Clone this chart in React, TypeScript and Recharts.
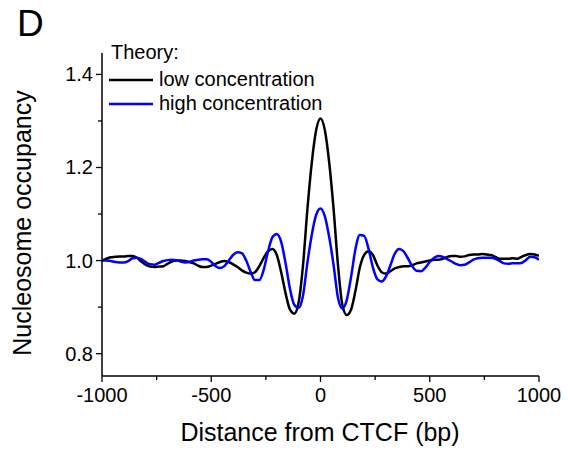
import { LineChart, Line, XAxis, YAxis } from 'recharts';

// distance from CTCF site (bp)
const distance = [
  -1000, -980, -960, -940, -920, -900, -880, -860, -840, -820,
  -800, -780, -760, -740, -720, -700, -680, -660, -640, -620,
  -600, -580, -560, -540, -520, -500, -480, -460, -440, -420,
  -400, -380, -360, -340, -320, -300, -280, -260, -240, -220,
  -200, -180, -160, -140, -120, -100, -80, -60, -40, -20,
  0,
  20, 40, 60, 80, 100, 120, 140, 160, 180, 200,
  220, 240, 260, 280, 300, 320, 340, 360, 380, 400,
  420, 440, 460, 480, 500, 520, 540, 560, 580, 600,
  620, 640, 660, 680, 700, 720, 740, 760, 780, 800,
  820, 840, 860, 880, 900, 920, 940, 960, 980, 1000,
];

const lowConcentration = [
  1.000, 1.004, 1.007, 1.008, 1.009, 1.009, 1.010, 1.010, 1.006, 0.998,
  0.991, 0.987, 0.986, 0.987, 0.988, 0.993, 0.998, 1.000, 1.000, 0.999,
  0.997, 0.994, 0.989, 0.986, 0.986, 0.989, 0.993, 0.997, 0.999, 0.997,
  0.992, 0.986, 0.979, 0.974, 0.972, 0.975, 0.988, 1.006, 1.020, 1.025,
  1.012, 0.975, 0.930, 0.895, 0.886, 0.910, 0.990, 1.110, 1.210, 1.280,
  1.305,
  1.280, 1.210, 1.110, 0.990, 0.905, 0.883, 0.895, 0.935, 0.985, 1.012,
  1.020, 1.012, 0.990, 0.975, 0.972, 0.977, 0.983, 0.986, 0.988, 0.988,
  0.990, 0.994, 0.996, 0.998, 1.000, 1.002, 1.002, 1.004, 1.008, 1.010,
  1.010, 1.008, 1.009, 1.012, 1.013, 1.013, 1.014, 1.013, 1.012, 1.008,
  1.004, 1.004, 1.004, 1.005, 1.004, 1.008, 1.012, 1.014, 1.013, 1.010,
];

const highConcentration = [
  1.000, 1.000, 0.999, 0.997, 0.996, 0.996, 0.999, 1.005, 1.006, 1.003,
  0.997, 0.992, 0.991, 0.995, 0.999, 1.001, 1.002, 1.001, 0.998, 0.996,
  0.997, 1.000, 1.002, 1.003, 1.003, 0.997, 0.988, 0.984, 0.988, 1.000,
  1.012, 1.018, 1.016, 1.000, 0.976, 0.958, 0.958, 0.980, 1.020, 1.050,
  1.057, 1.040, 0.995, 0.940, 0.905, 0.898, 0.925, 0.995, 1.055, 1.098,
  1.112,
  1.095, 1.050, 0.990, 0.920, 0.897, 0.915, 0.965, 1.025, 1.055, 1.053,
  1.025, 0.985, 0.960, 0.955, 0.966, 0.990, 1.015, 1.025, 1.020, 1.005,
  0.988, 0.978, 0.977, 0.985, 0.997, 1.006, 1.010, 1.008, 1.003, 0.998,
  0.993, 0.990, 0.991, 0.996, 1.002, 1.005, 1.006, 1.006, 1.006, 1.004,
  0.999, 0.994, 0.993, 0.994, 0.994, 0.995, 1.001, 1.008, 1.007, 1.002,
];

const xTicks = [-1000, -750, -500, -250, 0, 250, 500, 750, 1000];
const yTicks = [0.8, 0.9, 1.0, 1.1, 1.2, 1.3, 1.4];

const data = distance.map((d, i) => ({
  d,
  low: lowConcentration[i],
  high: highConcentration[i],
}));

const FONT = '"Liberation Sans", Arial, sans-serif';

const XTick = (props: any) => {
  const { x, y, payload } = props;
  const major = payload.value % 500 === 0;
  return (
    <g>
      <line x1={x} x2={x} y1={y} y2={y + (major ? 6 : 4)} stroke="#000" strokeWidth={1.3} />
      {major && (
        <text x={x} y={y + 26} textAnchor="middle" fontSize={20} fontFamily={FONT} fill="#000">
          {payload.value}
        </text>
      )}
    </g>
  );
};

const YTick = (props: any) => {
  const { x, y, payload } = props;
  const v = Math.round(payload.value * 10);
  const major = v % 2 === 0;
  return (
    <g>
      <line x1={x - (major ? 6 : 4)} x2={x} y1={y} y2={y} stroke="#000" strokeWidth={1.3} />
      {major && (
        <text x={x - 9} y={y + 7} textAnchor="end" fontSize={20} fontFamily={FONT} fill="#000">
          {payload.value.toFixed(1)}
        </text>
      )}
    </g>
  );
};

export default function App() {
  return (
    <div style={{ position: 'absolute', left: 0, top: 0, width: 568, height: 451, background: '#fff' }}>
      <LineChart width={568} height={451} data={data} margin={{ top: 53, right: 29, left: 0, bottom: 0 }}>
        <XAxis
          dataKey="d"
          type="number"
          domain={[-1000, 1000]}
          ticks={xTicks}
          allowDataOverflow
          height={75}
          tickLine={false}
          tickSize={0}
          tickMargin={0}
          tick={<XTick />}
          axisLine={{ stroke: '#000', strokeWidth: 1.5 }}
        />
        <YAxis
          type="number"
          domain={[0.752, 1.446]}
          ticks={yTicks}
          allowDataOverflow
          width={102}
          tickLine={false}
          tickSize={0}
          tickMargin={0}
          tick={<YTick />}
          axisLine={{ stroke: '#000', strokeWidth: 1.5 }}
        />
        <Line type="monotone" dataKey="low" stroke="#000000" strokeWidth={2.5} dot={false} isAnimationActive={false} />
        <Line type="monotone" dataKey="high" stroke="#0000ff" strokeWidth={2.5} dot={false} isAnimationActive={false} />
      </LineChart>
      <svg
        width={568}
        height={451}
        style={{ position: 'absolute', left: 0, top: 0, pointerEvents: 'none' }}
        fontFamily={FONT}
      >
        <text x={17} y={36} fontSize={37} fill="#000">D</text>
        <text
          transform="translate(31, 223) rotate(-90)"
          textAnchor="middle"
          fontSize={25}
          fill="#000"
        >
          Nucleosome occupancy
        </text>
        <text x={320} y={441} textAnchor="middle" fontSize={25} fill="#000">
          Distance from CTCF (bp)
        </text>
        <text x={111} y={59} fontSize={20} fill="#000">Theory:</text>
        <line x1={109} x2={153} y1={80} y2={80} stroke="#000000" strokeWidth={2.5} />
        <text x={159} y={86} fontSize={20} fill="#000">low concentration</text>
        <line x1={109} x2={153} y1={104} y2={104} stroke="#0000ff" strokeWidth={2.5} />
        <text x={159} y={110} fontSize={20} fill="#000">high concentration</text>
      </svg>
    </div>
  );
}
